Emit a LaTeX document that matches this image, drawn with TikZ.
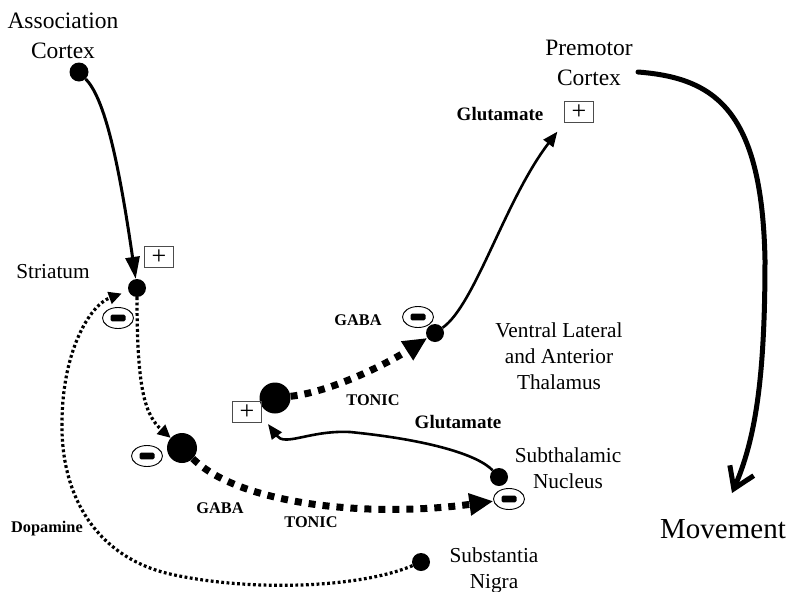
\documentclass[tikz,border=0pt]{standalone}
\usepackage{fontspec}
\setmainfont{Liberation Serif}
\usetikzlibrary{arrows.meta,shapes.geometric}
\tikzset{
  neuron/.style={circle, fill=black, inner sep=0pt, minimum size=#1},
  lbl/.style={font=\fontsize{21.3pt}{25.5pt}\selectfont, align=center, anchor=base, inner sep=0pt},
  ctx/.style={font=\fontsize{23.5pt}{29.5pt}\selectfont, align=center, anchor=base, inner sep=0pt},
  mvtext/.style={font=\fontsize{29pt}{34pt}\selectfont, anchor=base, inner sep=0pt},
  tag/.style={font=\bfseries\fontsize{16.3pt}{19pt}\selectfont, anchor=base, inner sep=0pt},
  tagL/.style={font=\bfseries\fontsize{19pt}{22pt}\selectfont, anchor=base, inner sep=0pt},
  minusbox/.style={ellipse, draw, line width=0.9pt, minimum width=31pt, minimum height=21pt, inner sep=0pt,
    path picture={\fill[rounded corners=1.5pt] ([xshift=-7.5pt,yshift=-3.3pt]path picture bounding box.center) rectangle ([xshift=7.5pt,yshift=3.3pt]path picture bounding box.center);}},
  plusbox/.style={rectangle, draw=black!70, line width=0.8pt, minimum width=29pt, minimum height=21pt, inner sep=0pt, font=\fontsize{26pt}{26pt}\selectfont},
  solidarrow/.style={line width=3pt, -{Triangle[length=22pt,width=14pt]}},
  thinarrow/.style={line width=2.6pt, -{Triangle[length=15pt,width=12pt]}},
  dotline/.style={line width=3.2pt, dash pattern=on 2.8pt off 2.5pt, -{Triangle[length=13pt,width=12pt]}},
  dashline/.style={line width=7pt, dash pattern=on 7pt off 7pt, -{Triangle[length=24pt,width=21pt]}},
  mvarrow/.style={line width=5pt, line cap=round, -{Straight Barb[length=20pt,width=26pt]}},
}
\begin{document}
\begin{tikzpicture}[x=1pt,y=-1pt]
\fill[white] (0,0) rectangle (788,592);
\useasboundingbox (0,0) rectangle (788,592);

% cell bodies
\node[neuron=19pt] (acdot) at (79,72) {};
\node[neuron=18pt] (strdot) at (137,288) {};
\node[neuron=30pt] (gpedot) at (182,448) {};
\node[neuron=31pt] (vldot) at (275,398) {};
\node[neuron=18pt] (thdot) at (435,333) {};
\node[neuron=18pt] (stndot) at (499,477) {};
\node[neuron=18pt] (sndot) at (421,562) {};

% signs
\node[minusbox] (m1) at (118,318) {};
\node[minusbox] (m2) at (147,456) {};
\node[minusbox] (m3) at (418,317) {};
\node[minusbox] (m4) at (509,499) {};
\node[plusbox] (p1) at (159,257) {+};
\node[plusbox] (p2) at (247,412) {+};
\node[plusbox] (p3) at (579,112) {+};

% region labels (base anchor = baseline of last line)
\node[ctx] (assoc) at (63,58) {Association\\Cortex};
\node[lbl] (striatum) at (53,278) {Striatum};
\node[ctx] (premotor) at (589,85) {Premotor\\Cortex};
\node[lbl, font=\fontsize{21.3pt}{26pt}\selectfont] (thal) at (559,389) {Ventral Lateral\\and Anterior\\Thalamus};
\node[lbl] (stn) at (568,488) {Subthalamic\\Nucleus};
\node[lbl] (sn) at (494,588) {Substantia\\Nigra};
\node[mvtext] (movement) at (723,538) {Movement};

% transmitter labels
\node[tagL] (glu1) at (500,120) {Glutamate};
\node[tagL] (glu2) at (458,428) {Glutamate};
\node[tag] (gaba1) at (358,325) {GABA};
\node[tag] (tonic1) at (373,405) {TONIC};
\node[tag] (gaba2) at (220,513) {GABA};
\node[tag] (tonic2) at (311,527) {TONIC};
\node[tag] (dopa) at (47,532) {Dopamine};

% free ends
\coordinate (vlin) at (268,424);
\coordinate (mvs) at (638,72);
\coordinate (mve) at (732,493);

% connectors
\draw[solidarrow] (acdot) .. controls (103,97) and (117,150) .. (strdot);
\draw[dotline] (strdot) .. controls (137,390) and (145,415) .. (gpedot);
\draw[dashline] (gpedot) .. controls (240,505) and (370,518) .. (m4);
\draw[dashline] (vldot) .. controls (330,392) and (385,365) .. (thdot);
\draw[thinarrow] (stndot) .. controls (478,455) and (430,440) .. (350,432)
   .. controls (310,430) and (285,447) .. (vlin);
\draw[thinarrow, shorten >=11pt] (thdot) .. controls (475,305) and (505,200) .. (p3.south west);
\draw[dotline, shorten >=7pt] (sndot) .. controls (360,588) and (250,592) .. (170,574)
   .. controls (100,558) and (60,500) .. (62,420)
   .. controls (63,350) and (90,305) .. (strdot);
\draw[mvarrow] (mvs) .. controls (715,78) and (762,110) .. (765,260)
   .. controls (765,380) and (755,440) .. (mve);
\end{tikzpicture}
\end{document}
